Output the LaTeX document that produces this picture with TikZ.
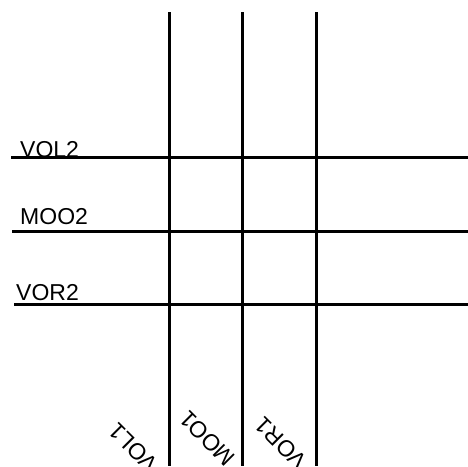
\documentclass[tikz,border=0pt]{standalone}
\usepackage{fontspec}
\setmainfont{Liberation Sans}
\begin{document}
\begin{tikzpicture}[x=1pt,y=-1pt,
  wire/.style={line width=3pt},
  lbl/.style={font=\fontsize{23}{25}\selectfont, inner sep=0pt, anchor=base west},
  rlbl/.style={font=\fontsize{23}{25}\selectfont, inner sep=0pt, anchor=base west, rotate=135}]
\useasboundingbox (0,0) rectangle (468,466);
% vertical lines
\coordinate (v1t) at (169,12); \coordinate (v1b) at (169,466);
\coordinate (v2t) at (242.5,12); \coordinate (v2b) at (242.5,466);
\coordinate (v3t) at (316,12); \coordinate (v3b) at (316,466);
\draw[wire] (v1t) -- (v1b);
\draw[wire] (v2t) -- (v2b);
\draw[wire] (v3t) -- (v3b);
% horizontal lines
\coordinate (h1l) at (11,157.5); \coordinate (h1r) at (468,157.5);
\coordinate (h2l) at (12,231); \coordinate (h2r) at (468,231);
\coordinate (h3l) at (14,304); \coordinate (h3r) at (468,304);
\draw[wire] (h1l) -- (h1r);
\draw[wire] (h2l) -- (h2r);
\draw[wire] (h3l) -- (h3r);
% labels
\node[lbl] (vol2) at (20,157) {VOL2};
\node[lbl] (moo2) at (20,224) {MOO2};
\node[lbl] (vor2) at (16,300) {VOR2};
\node[rlbl] (vol1) at (160,463) {VOL1};
\node[rlbl] (moo1) at (237,457) {MOO1};
\node[rlbl] (vor1) at (309,460) {VOR1};
\end{tikzpicture}
\end{document}
